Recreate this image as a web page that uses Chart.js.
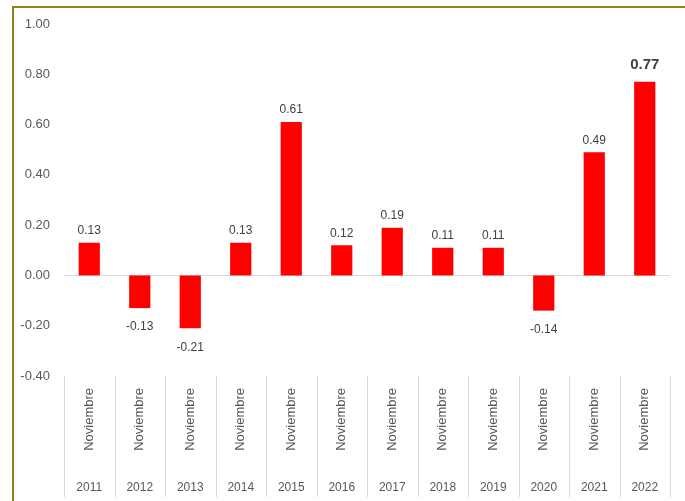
<!DOCTYPE html>
<html>
<head>
<meta charset="utf-8">
<script src="https://cdn.jsdelivr.net/npm/chart.js@4/dist/chart.umd.min.js"></script>
<style>
  html, body { margin: 0; padding: 0; background: #fff; }
  #wrap { width: 685px; height: 501px; }
</style>
</head>
<body>
<div id="wrap"><canvas id="chart" width="685" height="501"></canvas></div>
<script>
const months = ["Noviembre", "Noviembre", "Noviembre", "Noviembre", "Noviembre", "Noviembre",
                "Noviembre", "Noviembre", "Noviembre", "Noviembre", "Noviembre", "Noviembre"];
const years = ["2011", "2012", "2013", "2014", "2015", "2016", "2017", "2018", "2019", "2020", "2021", "2022"];
const values = [0.13, -0.13, -0.21, 0.13, 0.61, 0.12, 0.19, 0.11, 0.11, -0.14, 0.49, 0.77];

const FONT = "'Liberation Sans', Arial, sans-serif";

// gold frame behind the chart
const framePlugin = {
    id: "frame",
    beforeDraw(chart) {
        const c = chart.ctx;
        c.save();
        c.strokeStyle = "#9E7F1F";
        c.lineWidth = 2;
        c.beginPath();
        c.moveTo(13, chart.height);
        c.lineTo(13, 7);
        c.lineTo(chart.width, 7);
        c.stroke();
        c.restore();
    }
};

// separators between categories under the plot
const separatorPlugin = {
    id: "separators",
    afterDraw(chart) {
        const xs = chart.scales.x;
        const n = years.length;
        const step = (xs.right - xs.left) / n;
        const c = chart.ctx;
        c.save();
        c.strokeStyle = "#D9D9D9";
        c.lineWidth = 1;
        for (let i = 0; i <= n; i++) {
            const x = Math.round(xs.left + i * step) + 0.5;
            c.beginPath();
            c.moveTo(x, chart.chartArea.bottom);
            c.lineTo(x, chart.height - 4);
            c.stroke();
        }
        c.restore();
    }
};

// value labels on the bars
const labelPlugin = {
    id: "valueLabels",
    afterDatasetsDraw(chart) {
        const c = chart.ctx;
        const meta = chart.getDatasetMeta(0);
        c.save();
        c.textAlign = "center";
        c.textBaseline = "middle";
        c.fillStyle = "#404040";
        meta.data.forEach((bar, i) => {
            const v = values[i];
            const last = i === values.length - 1;
            c.font = (last ? "bold 15px " : "12px ") + FONT;
            const y = v >= 0 ? bar.y - (last ? 17 : 12) : bar.y + 19;
            c.fillText(v.toFixed(2), bar.x, y);
        });
        c.restore();
    }
};

new Chart(document.getElementById("chart").getContext("2d"), {
    type: "bar",
    data: {
        labels: months,
        datasets: [{
            data: values,
            backgroundColor: "#FF0000",
            borderWidth: 0,
            barPercentage: 0.42,
            categoryPercentage: 1
        }]
    },
    options: {
        responsive: false,
        animation: false,
        layout: { padding: { left: 12, right: 15, top: 24, bottom: 0 } },
        scales: {
            y: {
                min: -0.4,
                max: 1.0,
                ticks: {
                    stepSize: 0.2,
                    padding: 14,
                    color: "#595959",
                    font: { family: FONT, size: 13 },
                    callback: (v) => (Math.abs(v) < 1e-9 ? 0 : v).toFixed(2)
                },
                grid: {
                    drawTicks: false,
                    color: (ctx) => Math.abs(ctx.tick.value) < 1e-9 ? "#D9D9D9" : "rgba(0,0,0,0)"
                },
                border: { display: false },
                afterFit: (s) => { s.width = 52; }
            },
            x: {
                weight: 0,
                grid: { display: false, drawTicks: false },
                border: { display: false },
                ticks: {
                    minRotation: 90,
                    maxRotation: 90,
                    padding: 12,
                    color: "#595959",
                    font: { family: FONT, size: 13 }
                },
                afterFit: (s) => { s.height = 96; }
            },
            x2: {
                type: "category",
                position: "bottom",
                weight: 1,
                labels: years,
                grid: { display: false, drawTicks: false },
                border: { display: false },
                ticks: {
                    padding: 8,
                    color: "#595959",
                    font: { family: FONT, size: 12 }
                },
                afterFit: (s) => { s.height = 29; }
            }
        },
        plugins: {
            legend: { display: false },
            tooltip: { enabled: false }
        }
    },
    plugins: [framePlugin, separatorPlugin, labelPlugin]
});
</script>
</body>
</html>
